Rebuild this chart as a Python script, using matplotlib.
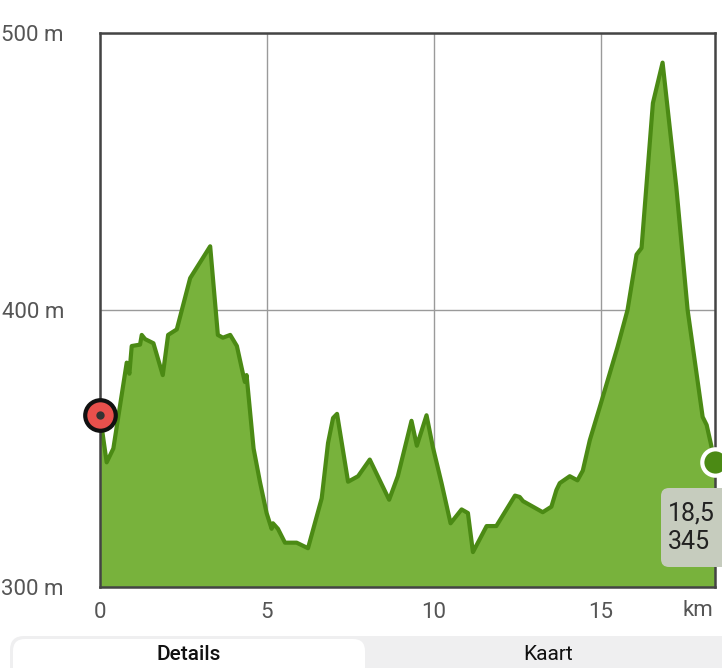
import matplotlib
matplotlib.use("Agg")
import matplotlib.pyplot as plt
from matplotlib.patches import FancyBboxPatch

plt.rcParams['font.family'] = ['Roboto', 'DejaVu Sans']

# distance (km) and elevation (m)
km = [0, 0.2, 0.4, 0.8, 0.88, 0.95, 1.2, 1.25, 1.35, 1.6, 1.88, 2.04, 2.3, 2.7, 3.3,
      3.53, 3.68, 3.9, 4.1, 4.3, 4.34, 4.39, 4.6, 4.79, 4.99, 5.14, 5.18, 5.33, 5.54,
      5.89, 6.23, 6.64, 6.83, 6.98, 7.1, 7.43, 7.73, 8.08, 8.66, 8.92, 9.33, 9.49,
      9.78, 9.97, 10.23, 10.5, 10.83, 11.02, 11.17, 11.58, 11.87, 12.43, 12.57, 12.67,
      13.26, 13.52, 13.67, 13.77, 14.07, 14.3, 14.46, 14.67, 14.97, 15.5, 15.8, 16.07,
      16.22, 16.56, 16.85, 17.26, 17.6, 18.05, 18.17, 18.42]
elev = [362, 345, 350, 381, 377, 387, 387.5, 391, 389.5, 388, 376.5, 391, 393, 411.5, 423,
        391, 390, 391, 387, 376, 374, 376.5, 350, 338, 326.7, 321, 323, 321, 316,
        316, 314, 332, 352, 361, 362.5, 338, 340, 346, 331.5, 340, 360, 351,
        362, 350.5, 337.5, 323, 328, 326.7, 312.6, 322, 322, 333, 332.5, 331,
        327, 329, 335, 337.5, 340, 338.5, 342, 353, 365, 386.6, 400, 420,
        422.4, 474.7, 489.3, 444.5, 400, 361.4, 358.5, 345]

x_ticks = [0, 5, 10, 15]
y_ticks = [300, 400, 500]
y_labels = ["300 m", "400 m", "500 m"]
tooltip = "18,5\n345"
tabs = ["Details", "Kaart"]

W, H = 722, 668
fig = plt.figure(figsize=(W / 100, H / 100), dpi=100)
fig.patch.set_facecolor("white")

ax = fig.add_axes([100 / W, 1 - 587 / H, 615 / W, 554 / H])
ax.fill_between(km, elev, 300, color="#78b23c", lw=0, zorder=2)
ax.plot(km, elev, color="#4b8a14", lw=3, solid_joinstyle="round", zorder=3)
ax.set_xlim(0, km[-1])
ax.set_ylim(300, 500)

ax.set_xticks(x_ticks)
ax.set_yticks(y_ticks)
ax.set_yticklabels(y_labels)
ax.tick_params(length=0, labelsize=16, labelcolor="#555555")
ax.tick_params(axis="y", pad=26)
ax.tick_params(axis="x", pad=11)
ax.grid(True, color="#9a9a9a", lw=1, zorder=1)
for s in ax.spines.values():
    s.set_color("#444444")
    s.set_linewidth(1.8)
    s.set_zorder(4)

# start marker
ax.plot(km[0], elev[0], "o", ms=22, mfc="#e8504c", mec="#111111", mew=3,
        clip_on=False, zorder=6)
ax.plot(km[0], elev[0], "o", ms=6, mfc="#333333", mec="none", clip_on=False, zorder=7)
# end marker
ax.plot(km[-1], elev[-1], "o", ms=19, mfc="#4b8a14", mec="white", mew=3,
        clip_on=False, zorder=6)

# overlay in pixel coordinates
ov = fig.add_axes([0, 0, 1, 1], zorder=10)
ov.set_xlim(0, W)
ov.set_ylim(H, 0)
ov.axis("off")
ov.patch.set_alpha(0)

ov.text(713, 611, "km", fontsize=16, color="#555555", ha="right", va="center")

# tooltip box
ov.add_patch(FancyBboxPatch((661, 488), 90, 79, boxstyle="round,pad=0,rounding_size=8",
                            fc="#c6ccbe", ec="none"))
ov.text(668, 528, tooltip, fontsize=18, color="#222222", ha="left", va="center",
        linespacing=1.25)

# bottom tab bar
ov.add_patch(FancyBboxPatch((10, 636), 740, 80, boxstyle="round,pad=0,rounding_size=14",
                            fc="#efeff0", ec="none"))
ov.add_patch(FancyBboxPatch((13, 639), 352, 80, boxstyle="round,pad=0,rounding_size=12",
                            fc="white", ec="none"))
ov.text(189, 660, tabs[0], fontsize=15, fontweight="medium", color="#111111",
        ha="center", va="baseline")
ov.text(548, 660, tabs[1], fontsize=15, color="#111111", ha="center", va="baseline")

fig.savefig("out.png", dpi=100)
